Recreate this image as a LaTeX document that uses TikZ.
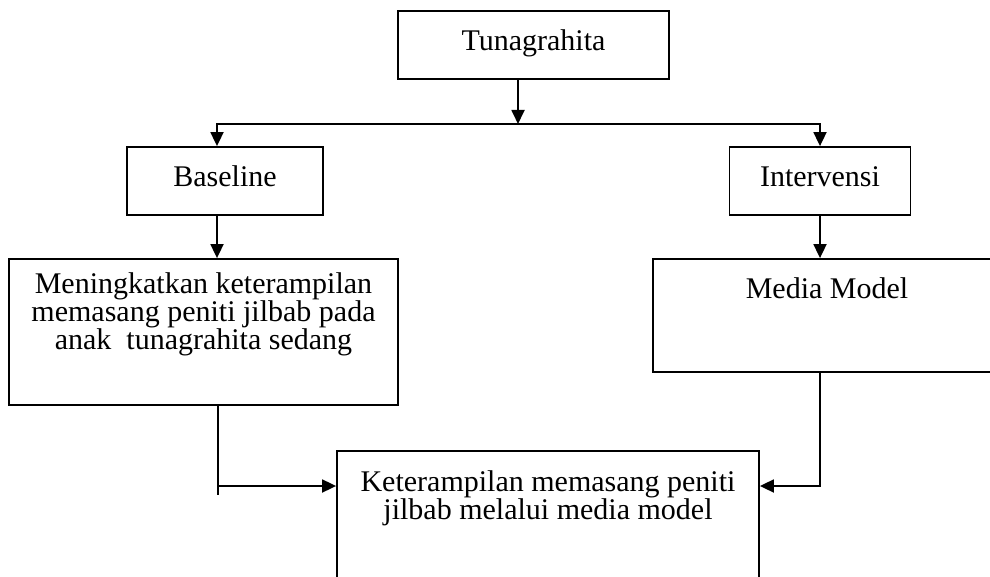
\documentclass[tikz,border=0pt]{standalone}
\usepackage{fontspec}
\setmainfont{Liberation Serif}
\usetikzlibrary{arrows.meta,calc}
\newcommand{\bodysize}{\fontsize{15}{14}\selectfont}
\tikzset{
  blk/.style={draw, line width=0.9pt, inner sep=0pt, align=center, font=\bodysize},
  ttl/.style={blk, minimum height=34pt, text height=10.2pt, text depth=5pt},
  txt/.style={inner sep=0pt, align=center, font=\bodysize, anchor=north},
  ar/.style={-{Triangle[length=7pt,width=6.5pt]}, line width=0.9pt},
  ln/.style={line width=0.9pt},
}

\begin{document}
\begin{tikzpicture}[x=0.5pt,y=-0.5pt]
  \useasboundingbox (0,0) rectangle (990,577);
  \node[ttl, minimum width=135.5pt] (tuna) at (533.5,45) {Tunagrahita};
  \node[ttl, minimum width=98pt] (base) at (225,181) {Baseline};
  \node[ttl, minimum width=90.5pt] (interv) at (820,181) {Intervensi};
  \node[blk, minimum width=194.5pt, minimum height=73pt] (mening) at (203.5,332) {};
  \node[txt] (meningtxt) at ([yshift=-7.25pt]mening.north)
    {Meningkatkan keterampilan\\ memasang peniti jilbab pada\\ anak\ \ tunagrahita sedang};
  \node[blk, minimum width=170pt, minimum height=56.5pt] (media) at (823,315.5) {};
  \node[txt] (mediatxt) at ([xshift=2pt,yshift=-9.75pt]media.north) {Media Model};
  \node[blk, minimum width=211pt, minimum height=74.5pt] (keter) at (548,525.5) {};
  \node[txt] (etertxt) at ([yshift=-10.25pt]keter.north)
    {Keterampilan memasang peniti\\ jilbab melalui media model};
  \coordinate (split) at (518,124);
  \coordinate (bl) at (217,124);
  \coordinate (br) at (820,124);
  \coordinate (lj) at (218,486);
  \coordinate (lend) at (218,495);
  \coordinate (rj) at (820,486);
  \draw[ar] (tuna.south -| split) -- (split);
  \draw[ar] (split) -| (bl |- base.north);
  \draw[ar] (split) -| (br |- interv.north);
  \draw[ar] (base.south -| bl) -- (bl |- mening.north);
  \draw[ar] (interv.south) -- (interv.south |- media.north);
  \draw[ln] (mening.south -| lj) -- (lend);
  \draw[ar] (lj) -- (lj -| keter.west);
  \draw[ar] (media.south -| rj) -- (rj) -- (rj -| keter.east);
\end{tikzpicture}
\end{document}
